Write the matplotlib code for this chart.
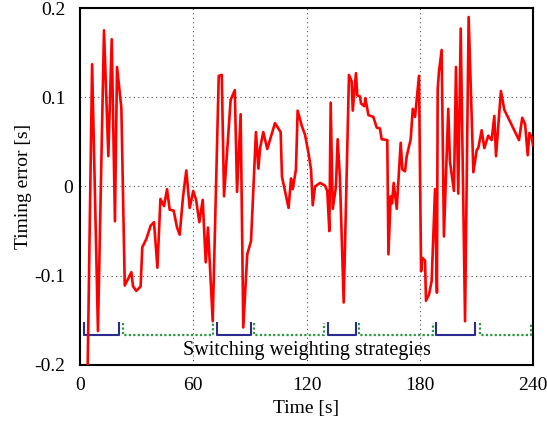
import matplotlib
matplotlib.use('Agg')
import matplotlib.pyplot as plt
import matplotlib.transforms as mtrans
import numpy as np

# timing error trace
t = [4.0, 6.4, 9.5, 12.7, 15.0, 16.8, 18.5, 19.6, 21.9, 23.7, 27.2, 28.1, 29.8, 32.1,
     33.0, 35.1, 37.4, 39.2, 41.0, 42.6, 44.5, 46.1, 47.5, 49.6, 51.4, 52.8, 54.6, 56.3,
     58.1, 60.0, 61.5, 63.2, 65.0, 66.6, 67.8, 70.3, 73.5, 75.1, 76.3, 79.8, 82.0, 83.2,
     85.1, 86.5, 88.6, 90.6, 93.2, 94.5, 95.4, 97.1, 99.2, 103.3, 106.3, 107.0, 109.5,
     110.5, 111.8, 112.7, 114.4, 115.3, 117.5, 119.2, 121.0, 122.4, 123.3, 124.5, 127.2,
     129.8, 131.0, 132.1, 132.8, 133.9, 135.6, 136.5, 137.7, 139.7, 142.5, 143.9, 144.5,
     146.2, 146.9, 148.3, 148.9, 150.6, 151.2, 152.8, 155.4, 157.2, 158.9, 159.8, 162.8,
     163.4, 164.6, 165.3, 166.2, 167.8, 169.9, 170.8, 172.2, 173.1, 175.2, 176.3, 177.5,
     179.6, 180.7, 181.4, 182.8, 183.3, 184.9, 186.3, 188.1, 189.1, 189.5, 190.2, 191.6,
     192.8, 195.1, 196.0, 198.1, 199.2, 200.4, 201.7, 204.0, 205.9, 208.4, 210.2, 211.0,
     212.8, 214.2, 216.3, 218.1, 219.5, 220.4, 223.0, 224.8, 232.6, 234.3, 235.8, 237.2,
     238.1, 239.3, 240.0]
err = [-0.21, 0.137, -0.162, 0.175, 0.034, 0.165, -0.039, 0.134, 0.088, -0.111, -0.096,
       -0.112, -0.117, -0.112, -0.068, -0.059, -0.044, -0.040, -0.091, -0.014, -0.022,
       -0.003, -0.026, -0.027, -0.046, -0.054, -0.011, 0.018, -0.024, -0.005, -0.015,
       -0.040, -0.015, -0.085, -0.046, -0.151, 0.124, 0.125, -0.011, 0.097, 0.108, -0.006,
       0.081, -0.158, -0.076, -0.061, 0.061, 0.020, 0.043, 0.061, 0.042, 0.071, 0.061,
       0.011, -0.014, -0.024, 0.009, -0.003, 0.019, 0.085, 0.068, 0.058, 0.038, 0.019,
       -0.021, 0.000, 0.004, 0.001, -0.005, -0.050, 0.094, -0.025, 0.000, 0.053, 0.010,
       -0.130, 0.125, 0.118, 0.085, 0.127, 0.102, 0.101, 0.093, 0.090, 0.099, 0.080,
       0.078, 0.066, 0.065, 0.053, 0.052, -0.076, -0.011, -0.019, 0.004, -0.025, 0.049,
       0.019, 0.017, 0.034, 0.053, 0.087, 0.078, 0.124, -0.095, -0.080, -0.083, -0.128,
       -0.121, -0.106, -0.003, -0.119, 0.109, 0.129, 0.153, -0.056, 0.087, 0.028, -0.005,
       0.134, -0.008, 0.177, -0.151, 0.190, 0.016, 0.041, 0.043, 0.063, 0.043, 0.057,
       0.052, 0.079, 0.034, 0.107, 0.086, 0.052, 0.077, 0.070, 0.035, 0.060, 0.055, 0.046]

# strategy intervals [s]
blue_spans = [(2.1, 20.8), (72.7, 90.6), (131.2, 146.2), (188.4, 209.3)]
green_spans = [(22.6, 70.3), (92.4, 129.4), (148.0, 186.8), (211.9, 239.0)]

xticks = [0, 60, 120, 180, 240]
yticks = [-0.2, -0.1, 0, 0.1, 0.2]
ytick_labels = ['-0.2', '-0.1', '0', '0.1', '0.2']

plt.rcParams['font.family'] = ['Liberation Serif', 'DejaVu Serif']
plt.rcParams['font.size'] = 14

fig = plt.figure(figsize=(5.47, 4.24), dpi=100)
ax = fig.add_axes([0.1463, 0.1392, 0.8281, 0.8419])

ax.plot(t, err, color='red', lw=1.9, zorder=5)

top, bot = -0.153, -0.166
for a, b in blue_spans:
    ax.plot([a, a, b, b], [top, bot, bot, top], color='#2a2a90', lw=1.5, zorder=3)
for a, b in green_spans:
    ax.plot([a, a, b, b], [top, bot, bot, top], color='#2a9a40', lw=1.6,
            linestyle=(0, (1, 1)), zorder=3)

ax.text(120, -0.184, 'Switching weighting strategies', ha='center', va='center', fontsize=14.5)

ax.set_xlim(0, 240)
ax.set_ylim(-0.2, 0.2)
ax.set_xticks(xticks)
ax.set_yticks(yticks)
ax.set_yticklabels(ytick_labels)
ax.tick_params(length=0)
ax.tick_params(axis='x', pad=8.7)
ax.tick_params(axis='y', pad=10.5)
# the zero label sits closer to the axis in the original
for lab in ax.get_yticklabels():
    if lab.get_text() == '0':
        lab.set_transform(lab.get_transform() + mtrans.ScaledTranslation(8 / 100, 0, fig.dpi_scale_trans))
ax.grid(True, color='k', linestyle=(0, (1, 3)), lw=0.8, alpha=0.7)
for s in ax.spines.values():
    s.set_linewidth(1.5)

ax.set_xlabel('Time [s]', labelpad=4.4)
ax.set_ylabel('Timing error [s]')
ax.yaxis.set_label_coords(-0.106, 0.5)

fig.savefig('out.png', dpi=100)
